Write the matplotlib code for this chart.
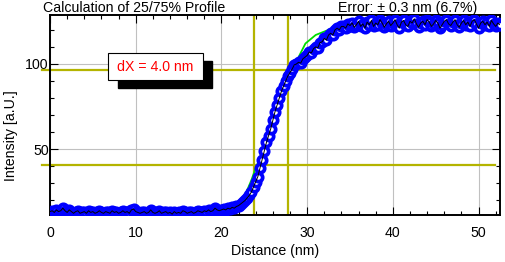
import matplotlib
matplotlib.use('Agg')
import matplotlib.pyplot as plt
from matplotlib.patches import Rectangle
from matplotlib.ticker import MultipleLocator
import numpy as np

plt.rcParams['font.family'] = ['Liberation Sans', 'DejaVu Sans']

# profile sampled every 0.25 nm starting at 0 nm
step = 0.25
baseline = [13.5, 14, 13, 14.5, 13.5, 14, 15.5, 14, 13, 14.5, 13.5, 12.5, 13.5, 14, 12.5, 13, 13.5, 12.5, 14, 13,
            13.5, 12.5, 13, 14, 13, 12.5, 13.5, 13, 12.5, 14, 13, 13.5, 12.5, 13, 14, 13, 13.5, 12.5, 14.5, 15,
            13.5, 13, 12.5, 13, 13.5, 12.5, 13, 14.5, 13, 12.5, 13, 14, 12.5, 13, 13.5, 12.5, 13, 12, 13.5, 12.5,
            13, 12.5, 14, 13.5, 12.5, 13, 13.5, 12.5, 13, 14, 13.5, 13, 14, 13.5, 14.5, 13.5, 14, 15.5, 14.5, 14]
rise = [14.5, 15, 14.5, 15.5, 15, 16, 15.5, 16.5, 17, 18, 19, 20, 21.5, 23, 25, 28, 31, 34, 39, 44,
        49, 54, 58, 62, 67, 72, 76, 80, 84, 87, 90, 93, 95, 97, 99.5, 100, 101, 100.5, 103, 104,
        105, 107, 106.5, 109, 110, 109.5, 112.5, 113, 115, 114, 117, 118, 117, 120, 121, 120, 122]
plateau = [122, 121, 123.5, 122.5, 124, 121.5, 123, 125, 122, 123.5, 121, 124.5, 123, 125.5, 122, 124, 123, 126,
           124, 121.5, 123.5, 125, 122.5, 124, 126, 123, 121, 124.5, 125.5, 123, 122, 125, 124, 126.5, 123.5,
           121.5, 124, 125, 123, 126, 124.5, 122, 123.5, 125.5, 124, 121, 123, 125, 126, 123.5, 122.5, 124.5,
           126, 123, 121.5, 124, 125.5, 123, 124.5, 122, 125, 126, 123.5, 121, 124, 125, 123, 124.5, 122, 125.5,
           123.5, 122, 124, 123]
intensity = np.array(baseline + rise + plateau)
distance = np.arange(len(intensity)) * step

# fitted profile (green)
fit_x = [0, 20, 21.5, 22.5, 23.0, 23.5, 24.0, 24.5, 25.0, 26.0, 27.0, 27.8, 28.8, 29.8, 31, 33, 36, 40, 52.5]
fit_y = [13, 13.5, 15, 20.5, 26, 32, 39, 45, 51, 67, 83, 93, 102, 112, 117, 121, 123, 124, 124.5]

level25, level75 = 40.9, 96.4
x25, x75 = 23.8, 27.8
dx_text = 'dX = 4.0 nm'
err_text = 'Error: \u00b1 0.3 nm (6.7%)'

fs = 10.2

fig = plt.figure(figsize=(5.06, 2.62), dpi=100)
ax = fig.add_axes([50/506, 47/262, 450/506, 200/262])
ax.set_xlim(0, 52.5)
ax.set_ylim(11.5, 128.7)

yel = '#b4b400'
for lv in (level25, level75):
    ax.plot([-0.93, 51.9], [lv, lv], color=yel, lw=1.6, clip_on=False, zorder=2)
for xv in (x25, x75):
    ax.axvline(xv, color=yel, lw=1.6, zorder=2)

ax.plot(fit_x, fit_y, color='#00dd00', lw=1.3, zorder=3)
ax.plot(distance, intensity, 'o', ms=6, mew=2.7, mfc='white', mec='#0000ff', zorder=4)
ax.plot(distance, intensity, '-', color='black', lw=0.7, zorder=5)

ax.xaxis.set_major_locator(MultipleLocator(10))
ax.xaxis.set_minor_locator(MultipleLocator(2))
ax.yaxis.set_major_locator(MultipleLocator(50))
ax.yaxis.set_minor_locator(MultipleLocator(10))
ax.grid(True, which='major', color='#c0c0c0', lw=0.8)
ax.set_axisbelow(True)
ax.tick_params(which='both', direction='in', top=True, right=True, labelsize=fs, width=0.8)
ax.tick_params(which='major', length=6)
ax.tick_params(which='minor', length=3)
ax.tick_params(axis='x', pad=8)
ax.tick_params(axis='y', pad=1)
for s in ax.spines.values():
    s.set_linewidth(1.4)

ax.set_xlabel('Distance (nm)', fontsize=fs)
ax.set_ylabel('Intensity [a.U.]', fontsize=fs)
ax.xaxis.set_label_coords(0.5, -0.145)
ax.yaxis.set_label_coords(-0.07, 0.395)

# dX box with shadow
ax.add_patch(Rectangle((0.151, 0.635), 0.209, 0.135, transform=ax.transAxes,
                       facecolor='black', edgecolor='black', zorder=6))
ax.add_patch(Rectangle((0.129, 0.675), 0.211, 0.135, transform=ax.transAxes,
                       facecolor='white', edgecolor='black', lw=0.8, zorder=7))
ax.text(0.2345, 0.742, dx_text, transform=ax.transAxes, color='red', fontsize=fs,
        ha='center', va='center', zorder=8)

fig.text(43/506, 1 - 1/262, 'Calculation of 25/75% Profile', fontsize=fs, ha='left', va='top')
fig.text(477/506, 1 - 1/262, err_text, fontsize=fs, ha='right', va='top')

plt.savefig('out.png', dpi=100)
